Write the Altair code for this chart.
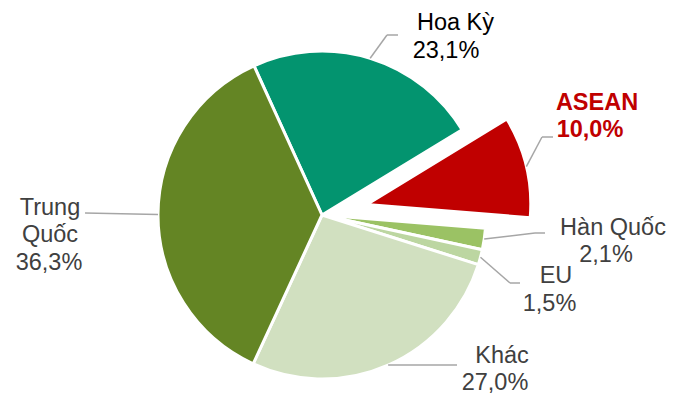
import math
import altair as alt
import pandas as pd

# ---- data ----
names = ["Hoa Kỳ", "ASEAN", "Hàn Quốc", "EU", "Khác", "Trung Quốc"]
values = [23.1, 10.0, 2.1, 1.5, 27.0, 36.3]
slice_colors = ["#03946F", "#C00000", "#9BC264", "#BCD6A1", "#D1E0C0", "#648524"]
name_lines = [["Hoa Kỳ"], ["ASEAN"], ["Hàn Quốc"], ["EU"], ["Khác"], ["Trung", "Quốc"]]

# ---- styles / placement ----
CX, CY, R = 314, 207, 164
START = math.radians(-24.5)
explode = [0, 46, 0, 0, 0, 0]
text_colors = ["#000000", "#C00000", "#404040", "#404040", "#404040", "#404040"]
bold = [False, True, False, False, False, False]
FONT_SIZE = 23.5
label_xy = [
    [(447.5, 22), (438, 50)],
    [(589, 102), (582, 129)],
    [(605, 227), (598, 254)],
    [(548, 275), (541.5, 303)],
    [(494, 355), (487, 382)],
    [(42, 207), (42, 234), (41, 262)],
]
elbow = [(379, 27), (534, 129), (527, 225), (502, 275), (449, 357), (77, 205)]
end = [(390, 27), (545, 129), (537, 225), (512, 275), (449, 357), (77, 205)]


def pct(v):
    return f"{v:.1f}".replace(".", ",") + "%"


slices = pd.DataFrame({
    "name": names,
    "value": values,
    "order": list(range(len(names))),
    "color": slice_colors,
    "explode": explode,
    "elbow_x": [p[0] for p in elbow],
    "elbow_y": [p[1] for p in elbow],
    "end_x": [p[0] for p in end],
    "end_y": [p[1] for p in end],
})

rows = []
for i, n in enumerate(names):
    lines = name_lines[i] + [pct(values[i])]
    for j, t in enumerate(lines):
        rows.append({
            "text": t,
            "x": label_xy[i][j][0],
            "y": label_xy[i][j][1],
            "color": text_colors[i],
            "bold": bold[i],
        })
labels = pd.DataFrame(rows)

base = (
    alt.Chart(slices)
    .transform_joinaggregate(total="sum(value)")
    .transform_window(cum="sum(value)", sort=[alt.SortField("order")], frame=[None, 0])
    .transform_calculate(
        t0=f"{START} + 2*PI*(datum.cum - datum.value)/datum.total",
        t1=f"{START} + 2*PI*datum.cum/datum.total",
    )
    .transform_calculate(mid="(datum.t0 + datum.t1)/2")
    .transform_calculate(
        cx=f"{CX} + datum.explode*sin(datum.mid)",
        cy=f"{CY} - datum.explode*cos(datum.mid)",
    )
    .transform_calculate(
        ex=f"datum.cx + {R}*sin(datum.mid)",
        ey=f"datum.cy - {R}*cos(datum.mid)",
    )
)

arcs = base.mark_arc(outerRadius=R, stroke="white", strokeWidth=3).encode(
    theta=alt.Theta("t0:Q", scale=None, stack=None),
    theta2="t1:Q",
    x=alt.X("cx:Q", scale=None, axis=None),
    y=alt.Y("cy:Q", scale=None, axis=None),
    color=alt.Color("color:N", scale=None),
)

lead1 = base.mark_rule(color="#A6A6A6", strokeWidth=1.5).encode(
    x=alt.X("ex:Q", scale=None, axis=None),
    y=alt.Y("ey:Q", scale=None, axis=None),
    x2="elbow_x:Q",
    y2="elbow_y:Q",
)
lead2 = base.mark_rule(color="#A6A6A6", strokeWidth=1.5).encode(
    x=alt.X("elbow_x:Q", scale=None, axis=None),
    y=alt.Y("elbow_y:Q", scale=None, axis=None),
    x2="end_x:Q",
    y2="end_y:Q",
)

txt_base = alt.Chart(labels)
txt_normal = txt_base.transform_filter("!datum.bold").mark_text(
    font="Liberation Sans", fontSize=FONT_SIZE, align="center", baseline="alphabetic"
).encode(
    x=alt.X("x:Q", scale=None, axis=None),
    y=alt.Y("y:Q", scale=None, axis=None),
    text="text:N",
    color=alt.Color("color:N", scale=None),
)
txt_bold = txt_base.transform_filter("datum.bold").mark_text(
    font="Liberation Sans", fontSize=FONT_SIZE, fontWeight="bold", align="center", baseline="alphabetic"
).encode(
    x=alt.X("x:Q", scale=None, axis=None),
    y=alt.Y("y:Q", scale=None, axis=None),
    text="text:N",
    color=alt.Color("color:N", scale=None),
)

chart = (
    alt.layer(arcs, lead1, lead2, txt_normal, txt_bold)
    .properties(width=661, height=386, autosize="none", padding=0)
    .configure_view(stroke=None)
)

chart.save("out.html", embed_options={"renderer": "svg", "actions": False})
